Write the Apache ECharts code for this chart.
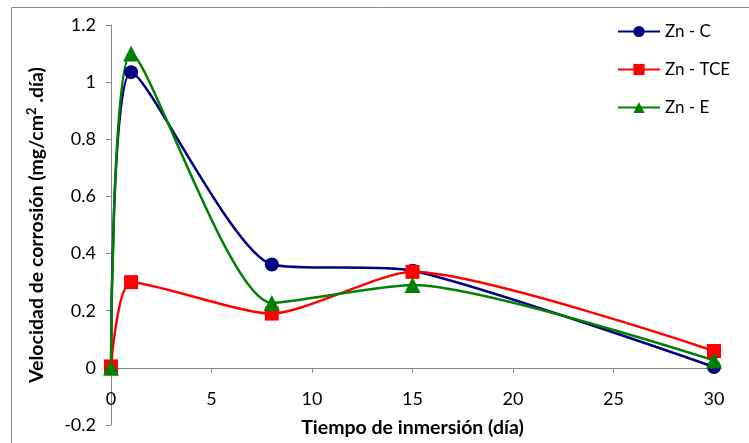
<!DOCTYPE html>
<html>
<head>
<meta charset="utf-8">
<script src="https://cdn.jsdelivr.net/npm/echarts@6/dist/echarts.min.js"></script>
<style>html,body{margin:0;padding:0;background:#fff}#c{width:749px;height:443px}</style>
</head>
<body>
<div id="c"></div>
<script>
const days = [0, 1, 8, 15, 30];
const znC = [0, 1.035, 0.362, 0.34, 0.003];
const znTCE = [0.005, 0.30, 0.19, 0.336, 0.059];
const znE = [0, 1.10, 0.227, 0.29, 0.026];
const seriesNames = ['Zn - C', 'Zn - TCE', 'Zn - E'];
const xTitle = 'Tiempo de inmersión (día)';

const pair = arr => days.map((d, i) => [d, arr[i]]);
const font = 'Lato, "Liberation Sans", sans-serif';
const chart = echarts.init(document.getElementById('c'), null, {renderer: 'canvas'});
const mk = (name, data, color, symbol, size) => ({
  name, type: 'line', data: pair(data), smooth: 0.22,
  symbol, symbolSize: size, showSymbol: true,
  lineStyle: {color, width: 2.5}, itemStyle: {color},
  emphasis: {disabled: true}
});
chart.setOption({
  animation: false,
  textStyle: {fontFamily: font},
  graphic: [{type: 'rect', shape: {x: 11.5, y: 7.5, width: 800, height: 500},
    style: {fill: 'none', stroke: '#8c8c8c', lineWidth: 1}, z: -1}],
  grid: {left: 111, right: 35, top: 25, bottom: 18, outerBoundsMode: 'none', containLabel: false},
  legend: {
    orient: 'vertical', left: 612, top: 18, itemWidth: 42, itemHeight: 14, itemGap: 21,
    textStyle: {fontSize: 17, color: '#000', fontFamily: font},
    data: seriesNames
  },
  xAxis: {
    type: 'value', min: 0, max: 30, interval: 5,
    axisLine: {onZero: true, lineStyle: {color: '#868686', width: 1}},
    axisTick: {show: true, inside: false, length: 5, lineStyle: {color: '#868686'}},
    axisLabel: {fontSize: 18, color: '#000', margin: -35, fontFamily: font},
    splitLine: {show: false},
    name: xTitle, nameLocation: 'middle', nameGap: -7,
    nameTextStyle: {fontSize: 19.5, fontWeight: 'bold', color: '#000', fontFamily: font}
  },
  yAxis: {
    type: 'value', min: -0.2, max: 1.2, interval: 0.2,
    axisLine: {show: true, onZero: false, lineStyle: {color: '#868686', width: 1}},
    axisTick: {show: true, inside: false, length: 5, lineStyle: {color: '#868686'}},
    axisLabel: {fontSize: 18, color: '#000', margin: 15, fontFamily: font},
    splitLine: {show: false},
    name: '{a|Velocidad de corrosión (mg/cm}{s|2}{a| .día)}',
    nameLocation: 'middle', nameGap: 62, nameRotate: 90,
    nameTextStyle: {
      rich: {
        a: {fontSize: 19.5, fontWeight: 'bold', color: '#000', fontFamily: font, lineHeight: 24},
        s: {fontSize: 13, fontWeight: 'bold', color: '#000', fontFamily: font, verticalAlign: 'top', lineHeight: 24}
      }
    }
  },
  series: [
    mk(seriesNames[0], znC, '#000080', 'circle', 14),
    mk(seriesNames[1], znTCE, '#ff0000', 'rect', 14),
    mk(seriesNames[2], znE, '#008000', 'triangle', 16)
  ]
});
</script>
</body>
</html>
